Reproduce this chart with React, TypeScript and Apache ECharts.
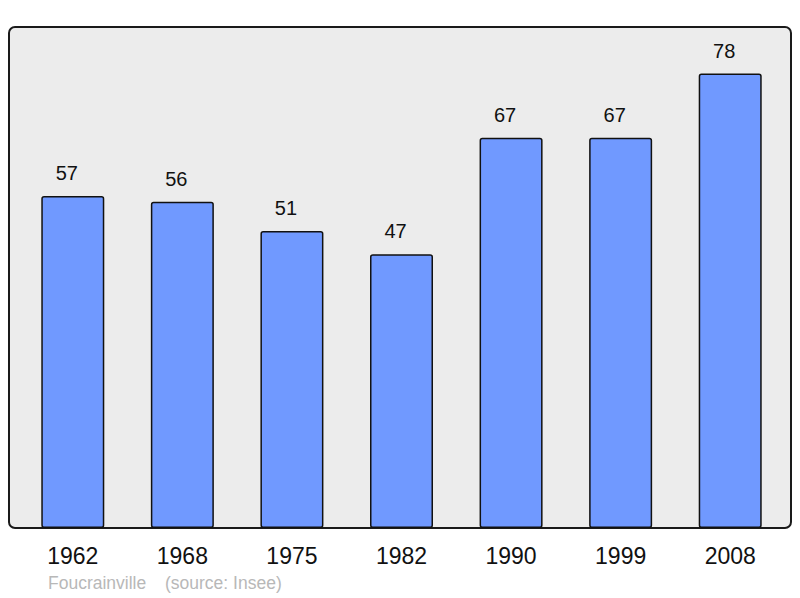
import React, { useEffect, useRef } from "react";
import * as echarts from "echarts";

const years = ["1962", "1968", "1975", "1982", "1990", "1999", "2008"];
const population = [57, 56, 51, 47, 67, 67, 78];
const footerName = "Foucrainville";
const footerSource = "(source: Insee)";

export default function App() {
  const ref = useRef<HTMLDivElement>(null);
  useEffect(() => {
    if (!ref.current) return;
    const chart = echarts.init(ref.current, null, { renderer: "svg" });
    chart.setOption({
      animation: false,
      backgroundColor: "#ffffff",
      graphic: [
        {
          type: "rect",
          z: -10,
          shape: { x: 9, y: 27, width: 782, height: 501, r: 6 },
          style: { fill: "#ececec", stroke: "#1a1a1a", lineWidth: 2 },
        },
        {
          type: "text",
          left: 48,
          top: 574,
          style: { text: footerName, fill: "#b8b8b8", font: "17.5px 'Liberation Sans', Arial, sans-serif" },
        },
        {
          type: "text",
          left: 165,
          top: 574,
          style: { text: footerSource, fill: "#b8b8b8", font: "17.5px 'Liberation Sans', Arial, sans-serif" },
        },
      ],
      grid: { left: 18, right: 15, top: 27, bottom: 70, containLabel: false },
      xAxis: {
        type: "category",
        data: years,
        axisLine: { show: false },
        axisTick: { show: false },
        axisLabel: {
          margin: 16,
          fontSize: 23,
          color: "#111",
          fontFamily: "'Liberation Sans', Arial, sans-serif",
        },
      },
      yAxis: {
        type: "value",
        min: 0,
        max: 86,
        show: false,
        splitLine: { show: false },
      },
      series: [
        {
          type: "bar",
          data: population,
          barWidth: 63,
          itemStyle: {
            color: "#7099ff",
            borderColor: "#111",
            borderWidth: 1.5,
            borderRadius: 2,
          },
          label: {
            show: true,
            position: "top",
            distance: 13,
            offset: [-6, 0],
            fontSize: 20,
            color: "#111",
            fontFamily: "'Liberation Sans', Arial, sans-serif",
          },
        },
      ],
    });
    return () => chart.dispose();
  }, []);
  return <div ref={ref} style={{ width: 800, height: 598, position: "absolute", left: 0, top: 0 }} />;
}
